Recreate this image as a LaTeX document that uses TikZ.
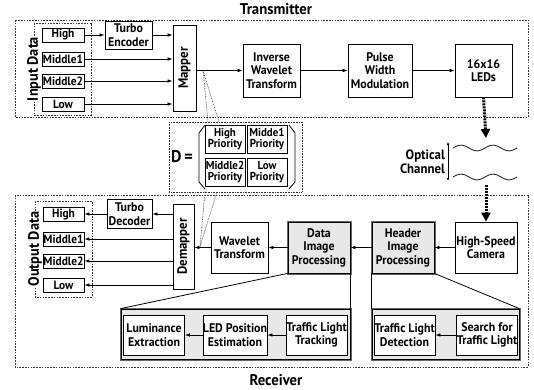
\documentclass[tikz,border=0pt]{standalone}
\usepackage{fontspec}
\setmainfont{PT Sans}[BoldFont={PT Sans Bold}, FakeStretch=0.95]
\usetikzlibrary{arrows.meta}
\tikzset{
 blk/.style={draw=black, line width=0.8pt, fill=white, align=center, inner sep=0pt, font=\bfseries\fontsize{12.5}{13.5}\selectfont},
 sblk/.style={blk, font=\bfseries\fontsize{12}{12}\selectfont},
 rblk/.style={blk, font=\bfseries\fontsize{13.5}{14}\selectfont},
 pblk/.style={blk, font=\bfseries\fontsize{11.5}{11}\selectfont, minimum width=40pt, minimum height=28pt},
 gblk/.style={blk, fill=black!9, preaction={draw=black!60, line width=3pt}},
 dbox/.style={draw=black!80, line width=0.7pt, dash pattern=on 1.6pt off 1.2pt},
 arr/.style={-{Latex[length=5pt,width=3.6pt]}, line width=0.7pt},
 zline/.style={draw=black!75, line width=0.55pt, dash pattern=on 0.8pt off 0.8pt},
 bigarr/.style={line width=3pt, dash pattern=on 2pt off 1pt, -{Triangle[length=9pt,width=9pt]}},
 lbl/.style={font=\bfseries\fontsize{15.5}{17}\selectfont, inner sep=1pt},
 vlbl/.style={lbl, rotate=90, fill=white, font=\bfseries\fontsize{15}{16}\selectfont},
 wave/.style={line width=0.7pt},
}
\begin{document}
\begin{tikzpicture}[x=1pt,y=-1pt]
\useasboundingbox (0,0) rectangle (534,389);
% ---------------- Transmitter ----------------
\draw[dbox] (15,20) rectangle (528,117);
\node[lbl] (txlabel) at (276,9) {Transmitter};
\draw[dbox] (34,23) rectangle (91,115);
\node[vlbl] (indata) at (34,69) {Input Data};
\node[sblk, minimum width=42pt, minimum height=14pt] (th) at (63,35) {High};
\node[sblk, minimum width=42pt, minimum height=14pt] (tm1) at (63,59) {Middle1};
\node[sblk, minimum width=42pt, minimum height=14pt] (tm2) at (63,81) {Middle2};
\node[sblk, minimum width=42pt, minimum height=14pt] (tl) at (63,104) {Low};
\node[blk, minimum width=47pt, minimum height=28pt] (tenc) at (128.5,35) {Turbo\\Encoder};
\node[rblk, minimum width=23pt, minimum height=86pt] (mapper) at (184.5,68) {\rotatebox{90}{Mapper}};
\node[blk, minimum width=57pt, minimum height=53pt] (iwt) at (271.5,70.5) {Inverse\\Wavelet\\Transform};
\node[blk, minimum width=64pt, minimum height=53pt] (pwm) at (380,70.5) {Pulse\\Width\\Modulation};
\node[blk, minimum width=57pt, minimum height=53pt] (leds) at (483.5,70.5) {16x16\\LEDs};
\draw[arr] (th.east) -- (tenc.west);
\draw[arr] (tenc.east) -- (tenc.east -| mapper.west);
\draw[arr] (tm1.east) -- (tm1.east -| mapper.west);
\draw[arr] (tm2.east) -- (tm2.east -| mapper.west);
\draw[arr] (tl.east) -- (tl.east -| mapper.west);
\draw[arr] (mapper.east |- iwt.west) -- (iwt.west);
\draw[arr] (iwt.east) -- (pwm.west);
\draw[arr] (pwm.east) -- (leds.west);
\coordinate (zt) at (203,70.5);
% ---------------- D matrix ----------------
\draw[dbox, line width=0.5pt, dash pattern=on 0.8pt off 0.8pt] (169,122) rectangle (302,192);
\node[lbl, font=\bfseries\fontsize{17}{18}\selectfont] (deq) at (182,157) {D\,=};
\node[pblk] (ph) at (225,139) {High\\Priority};
\node[pblk] (pm1) at (267,139) {Midde1\\Priority};
\node[pblk] (pm2) at (225,172) {Middle2\\Priority};
\node[pblk] (pl) at (267,172) {Low\\Priority};
\draw[line width=0.8pt] (205,125) -- (199,133) -- (199,182) -- (205,189);
\draw[line width=0.8pt] (289,125) -- (295,133) -- (295,182) -- (289,189);
\coordinate (dt1) at (208,122);
\coordinate (dt2) at (219,122);
\coordinate (db1) at (205,192);
\coordinate (db2) at (217,192);
\draw[zline] (zt) -- (dt1);
\draw[zline] (zt) -- (dt2);
% ---------------- Optical channel ----------------
\coordinate (oc1) at (486,138);
\coordinate (oc2) at (486,185);
\draw[bigarr] (leds.south) -- (oc1);
\draw[wave] (453,148) sin (461,145) cos (469,148) sin (477,151) cos (485,148) sin (493,145) cos (501,148) sin (509,151) cos (517,148);
\draw[wave] (453,177) sin (461,174) cos (469,177) sin (477,180) cos (485,177) sin (493,174) cos (501,177) sin (509,180) cos (517,177);
\coordinate (va) at (448,142);
\coordinate (vb) at (448,181);
\draw[{Latex[length=3pt,width=2.6pt]}-{Latex[length=3pt,width=2.6pt]}, line width=0.6pt] (va) -- (vb);
\node[lbl, align=right, anchor=east, font=\bfseries\fontsize{13.5}{14}\selectfont] (optl) at (446,162) {Optical\\Channel};
% ---------------- Receiver ----------------
\draw[dbox] (15,195) rectangle (528,367);
\node[lbl] (rxlabel) at (276,380) {Receiver};
\node[blk, minimum width=62pt, minimum height=51pt] (cam) at (486,247.5) {High-Speed\\Camera};
\draw[bigarr] (oc2) -- (cam.north);
\node[gblk, minimum width=62pt, minimum height=51pt] (hip) at (403,247.5) {Header\\Image\\Processing};
\node[gblk, minimum width=62pt, minimum height=51pt] (dip) at (319,247.5) {Data\\Image\\Processing};
\node[blk, minimum width=57pt, minimum height=51pt] (wt) at (239.5,247.5) {Wavelet\\Transform};
\node[rblk, minimum width=21pt, minimum height=85pt] (demap) at (183.5,246.5) {\rotatebox{90}{Demapper}};
\node[blk, minimum width=45pt, minimum height=29pt] (tdec) at (129.5,214) {Turbo\\Decoder};
\draw[dbox] (35,201) rectangle (92,297);
\node[vlbl] (outdata) at (35,249) {Output Data};
\node[sblk, minimum width=41pt, minimum height=14pt] (rh) at (63.5,214) {High};
\node[sblk, minimum width=41pt, minimum height=14pt] (rm1) at (63.5,239) {Middle1};
\node[sblk, minimum width=41pt, minimum height=14pt] (rm2) at (63.5,261) {Middle2};
\node[sblk, minimum width=41pt, minimum height=14pt] (rl) at (63.5,285) {Low};
\draw[arr] (cam.west) -- (hip.east);
\draw[arr] (hip.west) -- (dip.east);
\draw[arr] (dip.west) -- (wt.east);
\draw[arr] (wt.west) -- (wt.west -| demap.east);
\draw[arr] (demap.west |- tdec.east) -- (tdec.east);
\draw[arr] (tdec.west) -- (rh.east);
\draw[arr] (demap.west |- rm1.east) -- (rm1.east);
\draw[arr] (demap.west |- rm2.east) -- (rm2.east);
\draw[arr] (demap.west |- rl.east) -- (rl.east);
\coordinate (zb) at (200,246.5);
\draw[zline] (db1) -- (zb);
\draw[zline] (db2) -- (zb);
% ---------------- detail boxes ----------------
\node[gblk, minimum width=229pt, minimum height=50pt] (ddet) at (235.5,334) {};
\node[gblk, minimum width=147pt, minimum height=50pt] (hdet) at (445.5,334) {};
\node[blk, minimum width=61pt, minimum height=40pt] (lum) at (154,335) {Luminance\\Extraction};
\node[blk, minimum width=64pt, minimum height=40pt] (ledp) at (235,335) {LED Position\\Estimation};
\node[blk, minimum width=61pt, minimum height=40pt] (tlt) at (316.5,335) {Traffic Light\\Tracking};
\node[blk, minimum width=61pt, minimum height=40pt] (tld) at (404.5,335) {Traffic Light\\Detection};
\node[blk, minimum width=60pt, minimum height=40pt] (sft) at (487,335) {Search for\\Traffic Light};
\draw[arr] (tlt.west) -- (ledp.east);
\draw[arr] (ledp.west) -- (lum.east);
\draw[arr] (sft.west) -- (tld.east);
\draw[line width=0.8pt] (dip.south west) -- (ddet.north west);
\draw[line width=0.8pt] (dip.south east) -- (ddet.north east);
\draw[line width=0.8pt] (hip.south west) -- (hdet.north west);
\draw[line width=0.8pt] (hip.south east) -- (hdet.north east);
\end{tikzpicture}
\end{document}
